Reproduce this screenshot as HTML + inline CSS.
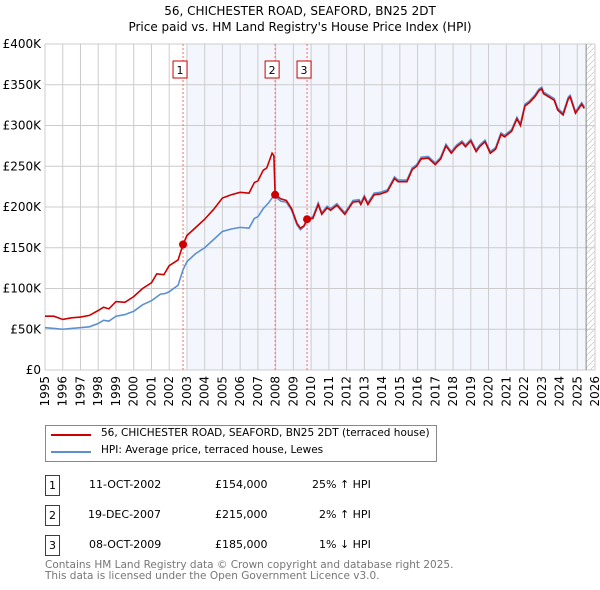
<!DOCTYPE html>
<html><head><meta charset="utf-8">
<style>
body{margin:0;background:#fff;font-family:"DejaVu Sans","Liberation Sans",sans-serif;}
#wrap{position:relative;width:600px;height:590px;overflow:hidden;}
.t{position:absolute;font-size:11px;color:#000;white-space:nowrap;}
.box{position:absolute;border:1px solid #c00;width:13px;height:19px;font-size:11px;text-align:center;line-height:19px;}
</style></head><body>
<div id="wrap">
<div class="t" style="left:0;width:600px;text-align:center;top:3px;font-size:12px;line-height:16px">56, CHICHESTER ROAD, SEAFORD, BN25 2DT<br>Price paid vs. HM Land Registry's House Price Index (HPI)</div>
<svg id="chart" width="600" height="410" style="position:absolute;left:0;top:0"></svg>
<div style="position:absolute;left:45px;top:425px;width:390px;height:35px;border:1px solid #888;">
  <div><div style="position:absolute;left:5px;top:8px;width:40px;height:2px;background:#c00"></div><div class="t" style="left:55px;top:1px;font-size:10.5px">56, CHICHESTER ROAD, SEAFORD, BN25 2DT (terraced house)</div></div>
  <div><div style="position:absolute;left:5px;top:25px;width:40px;height:2px;background:#5b8fd0"></div><div class="t" style="left:55px;top:18px;font-size:10.5px">HPI: Average price, terraced house, Lewes</div></div>
</div>
<div>
<div class="box" style="left:45px;top:475px">1</div><div class="t" style="left:89px;top:478px">11-OCT-2002</div><div class="t" style="left:215px;top:478px">£154,000</div><div class="t" style="left:312px;top:478px">25% ↑ HPI</div></div>
<div>
<div class="box" style="left:45px;top:505px">2</div><div class="t" style="left:88px;top:508px">19-DEC-2007</div><div class="t" style="left:215px;top:508px">£215,000</div><div class="t" style="left:319px;top:508px">2% ↑ HPI</div></div>
<div>
<div class="box" style="left:45px;top:535px">3</div><div class="t" style="left:89px;top:538px">08-OCT-2009</div><div class="t" style="left:215px;top:538px">£185,000</div><div class="t" style="left:319px;top:538px">1% ↓ HPI</div></div>
<div class="t" style="left:45px;top:560px;color:#777;font-size:10.5px;line-height:11px">Contains HM Land Registry data © Crown copyright and database right 2025.<br>This data is licensed under the Open Government Licence v3.0.</div>
</div>
<script>
const hpiYears=[1995,1995.5,1996,1996.5,1997,1997.5,1998,1998.3,1998.6,1999,1999.5,2000,2000.5,2001,2001.5,2001.8,2002,2002.5,2002.78,2003,2003.5,2004,2004.5,2005,2005.5,2006,2006.5,2006.8,2007,2007.3,2007.6,2007.9,2008.3,2008.6,2008.9,2009.2,2009.4,2009.6,2009.8,2010.1,2010.4,2010.6,2010.9,2011.1,2011.45,2011.9,2012.36,2012.7,2012.8,2013.0,2013.2,2013.55,2013.9,2014.3,2014.7,2014.9,2015.4,2015.7,2015.95,2016.2,2016.6,2017.0,2017.3,2017.6,2017.9,2018.2,2018.5,2018.7,2019.0,2019.3,2019.5,2019.8,2020.1,2020.4,2020.7,2020.9,2021.3,2021.6,2021.8,2022.05,2022.3,2022.6,2022.85,2023.0,2023.1,2023.4,2023.7,2023.9,2024.2,2024.5,2024.6,2024.9,2025.25,2025.4];
const hpiValues=[52,51,50,51,52,53,57,61,60,66,68,72,80,85,93,94,96,104,123,133,143,150,160,170,173,175,174,186,188,198,205,214,207,206,196,178,172,176,185,188,205,193,201,198,204,193,208,209,205,214,205,217,218,221,237,233,233,248,252,261,262,254,261,277,268,276,281,276,283,270,276,282,268,273,291,288,295,310,302,326,330,337,345,347,341,337,333,321,315,335,337,317,328,323];
const priceYears=[1995,1995.5,1996,1996.5,1997,1997.5,1998,1998.3,1998.6,1999,1999.5,2000,2000.5,2001,2001.3,2001.7,2002,2002.5,2002.78,2003,2003.5,2004,2004.5,2005,2005.5,2006,2006.5,2006.8,2007,2007.3,2007.5,2007.8,2007.9,2007.97,2008.3,2008.6,2008.9,2009.2,2009.4,2009.6,2009.77,2010.1,2010.4,2010.6,2010.9,2011.1,2011.45,2011.9,2012.36,2012.7,2012.8,2013.0,2013.2,2013.55,2013.9,2014.3,2014.7,2014.9,2015.4,2015.7,2015.95,2016.2,2016.6,2017.0,2017.3,2017.6,2017.9,2018.2,2018.5,2018.7,2019.0,2019.3,2019.5,2019.8,2020.1,2020.4,2020.7,2020.9,2021.3,2021.6,2021.8,2022.05,2022.3,2022.6,2022.85,2023.0,2023.1,2023.4,2023.7,2023.9,2024.2,2024.5,2024.6,2024.9,2025.25,2025.4];
const priceValues=[66,66,62,64,65,67,73,77,75,84,83,90,100,107,118,117,128,135,154,165,175,185,197,211,215,218,217,230,232,245,248,266,263,215,210,208,198,180,174,177,185,186,203,191,199,196,202,191,206,207,203,212,203,215,216,219,235,231,231,246,250,259,260,252,259,275,266,274,279,274,281,268,274,280,266,271,289,286,293,308,300,324,328,335,343,345,339,335,331,319,313,333,335,315,326,321];
const saleYears=[2002.78,2007.97,2009.77];
const salePrices=[154,215,185];
const saleLabels=["1","2","3"];
const yTicks=[0,50,100,150,200,250,300,350,400];
const yTickLabels=["£0","£50K","£100K","£150K","£200K","£250K","£300K","£350K","£400K"];
const xTicks=[1995,1996,1997,1998,1999,2000,2001,2002,2003,2004,2005,2006,2007,2008,2009,2010,2011,2012,2013,2014,2015,2016,2017,2018,2019,2020,2021,2022,2023,2024,2025,2026];

const L=45,R=595,T=44,B=370,X0=1995,X1=2026,YMAX=400;
const FF='DejaVu Sans, Liberation Sans, sans-serif';
const sx=y=>L+(y-X0)/(X1-X0)*(R-L);
const sy=v=>B-v/YMAX*(B-T);
const svg=document.getElementById('chart');
const NS='http://www.w3.org/2000/svg';
function mk(tag,at){const e=document.createElementNS(NS,tag);for(const k in at)e.setAttribute(k,at[k]);svg.appendChild(e);return e;}
let e;
e=mk('rect',{x:sx(2003),y:T,width:sx(2025.5)-sx(2003),height:B-T,fill:'#f3f6fd'});


const defs=document.createElementNS(NS,'defs');defs.innerHTML='<pattern id="h" width="6" height="6" patternUnits="userSpaceOnUse"><path d="M0,6 L6,0" stroke="#ccc" stroke-width="0.8"/></pattern>';svg.appendChild(defs);
e=mk('rect',{x:sx(2025.5),y:T,width:R-sx(2025.5),height:B-T,fill:'url(#h)'});


xTicks.forEach((t,i)=>{
  e=mk('line',{x1:sx(t),x2:sx(t),y1:T,y2:B,stroke:'#ccc','stroke-width':1});
  
  
  e=mk('text',{x:sx(t)+4,y:B+6,'font-size':12,transform:`rotate(-90 ${sx(t)+4} ${B+6})`,'text-anchor':'end','font-family':FF});
  e.textContent=t;
  
  
});
yTicks.forEach((v,i)=>{
  e=mk('line',{x1:L,x2:R,y1:sy(v),y2:sy(v),stroke:'#ccc','stroke-width':1});
  
  
  e=mk('text',{x:L-4,y:sy(v)+4,'font-size':12,'text-anchor':'end','font-family':FF});
  e.textContent=yTickLabels[i];
  
  
});
e=mk('line',{x1:sx(2025.5),x2:sx(2025.5),y1:T,y2:B,stroke:'#888','stroke-width':1});


saleYears.forEach((y,i)=>{
  e=mk('line',{x1:sx(y),x2:sx(y),y1:T,y2:B,stroke:'#f66','stroke-width':1,'stroke-dasharray':'2,2'});
  
  
  e=mk('rect',{x:sx(y)-10,y:61,width:14,height:17,fill:'#fff',stroke:'#c00'});
  
  
  e=mk('text',{x:sx(y)-3,y:74,'font-size':11,'text-anchor':'middle','font-family':FF});
  e.textContent=saleLabels[i];
  
  
});
e=mk('polyline',{points:hpiYears.map((y,i)=>sx(y)+','+sy(hpiValues[i])).join(' '),fill:'none',stroke:'#5b8fd0','stroke-width':1.6});


e=mk('polyline',{points:priceYears.map((y,i)=>sx(y)+','+sy(priceValues[i])).join(' '),fill:'none',stroke:'#c00','stroke-width':1.6});


saleYears.forEach((y,i)=>{
  e=mk('circle',{cx:sx(y),cy:sy(salePrices[i]),r:4,fill:'#c00'});
  
  
});
</script>
</body></html>
